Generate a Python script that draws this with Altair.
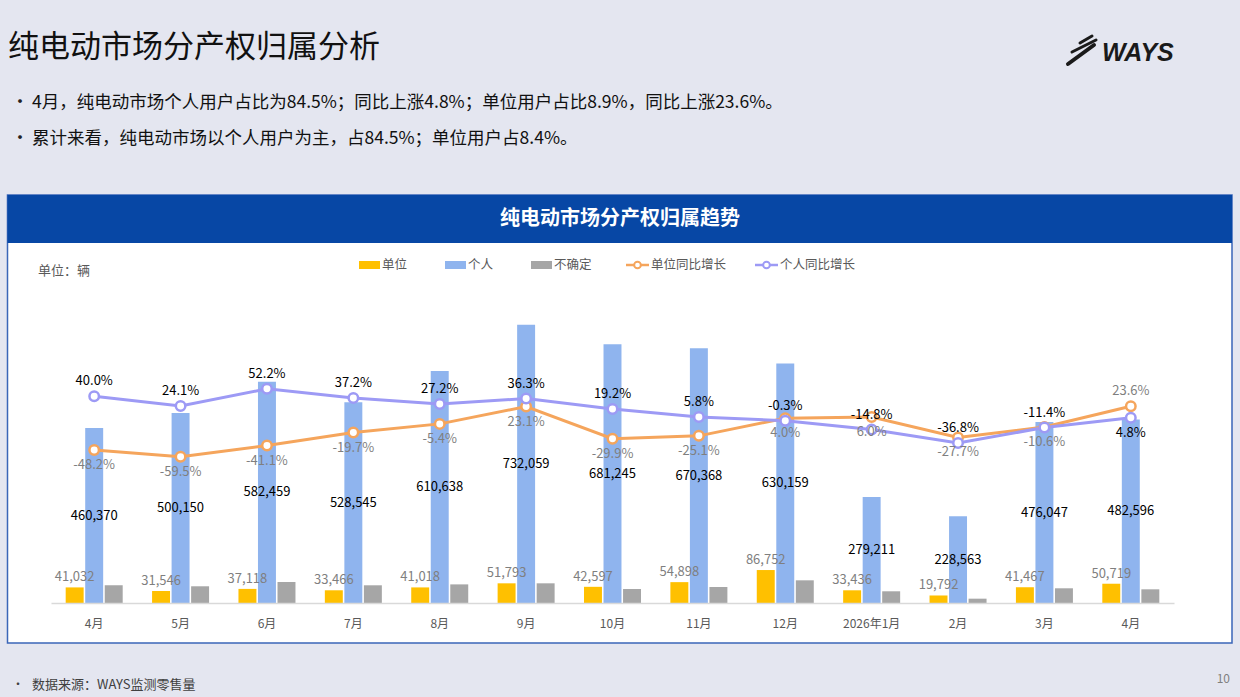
import json

import altair as alt
import pandas as pd

FONT = "Noto Sans CJK SC"

# ---- data -------------------------------------------------------------
months = ["4月", "5月", "6月", "7月", "8月", "9月", "10月", "11月", "12月",
          "2026年1月", "2月", "3月", "4月"]
unit_sales = [41032, 31546, 37118, 33466, 41018, 51793, 42597, 54898, 86752,
              33436, 19792, 41467, 50719]
personal_sales = [460370, 500150, 582459, 528545, 610638, 732059, 681245,
                  670368, 630159, 279211, 228563, 476047, 482596]
uncertain_sales = [46600, 44000, 55300, 46600, 49000, 51800, 36800, 42100,
                   59700, 30800, 11400, 38700, 36000]
unit_yoy = [-48.2, -59.5, -41.1, -19.7, -5.4, 23.1, -29.9, -25.1, 4.0, 6.0,
            -27.7, -10.6, 23.6]
personal_yoy = [40.0, 24.1, 52.2, 37.2, 27.2, 36.3, 19.2, 5.8, -0.3, -14.8,
                -36.8, -11.4, 4.8]

bar_series = ["单位", "个人", "不确定"]
bar_colors = ["#FFC000", "#8FB4EE", "#A6A6A6"]
UNIT_LINE = "#F5A55C"
PERSON_LINE = "#9D9AF5"

# ---- page geometry ----------------------------------------------------
PLOT_L, PLOT_T, PLOT_W, PLOT_H = 51, 299, 1123, 304
PAGE_W, PAGE_H = 1240, 697


def px(x):
    return x - PLOT_L


def py(y):
    return y - PLOT_T


# ---- tables -----------------------------------------------------------
bar_rows = []
for i in range(len(months)):
    for name, vals in zip(bar_series, [unit_sales, personal_sales, uncertain_sales]):
        bar_rows.append({"idx": i, "series": name, "value": vals[i]})
bar_df = pd.DataFrame(bar_rows)

last = len(months) - 1
unit_df = pd.DataFrame({
    "idx": list(range(len(months))),
    "pct": unit_yoy,
    # unit labels sit under their markers, except the latest month
    "above": [i == last for i in range(len(months))],
})
person_df = pd.DataFrame({
    "idx": list(range(len(months))),
    "pct": personal_yoy,
    "above": [i != last for i in range(len(months))],
})

ONE = alt.Data(values=[{"d": 0}])

x_axis = alt.Axis(
    title=None,
    labelExpr=json.dumps(months, ensure_ascii=False) + "[datum.value]",
    labelFont=FONT, labelFontSize=12, labelColor="#595959",
    labelAngle=0, labelPadding=15, ticks=False, grid=False,
    domainColor="#D9D9D9", domainWidth=1.5, zindex=2,
)
X = alt.X("idx:O", axis=x_axis,
          scale=alt.Scale(paddingInner=0.34, paddingOuter=0.17))
XO = alt.XOffset("series:N",
                 scale=alt.Scale(domain=bar_series, paddingInner=0.08))
bar_scale = alt.Scale(domain=[0, 800000], nice=False, zero=True)
pct_scale = alt.Scale(domain=[-300, 200], nice=False, zero=False)


def text(s, x, y, size, color="#000000", weight="normal", align="left",
         baseline="middle", font=FONT, style="normal"):
    return alt.Chart(ONE).mark_text(
        text=s, align=align, baseline=baseline, fontSize=size, color=color,
        fontWeight=weight, font=font, fontStyle=style,
    ).encode(x=alt.value(px(x)), y=alt.value(py(y)))


def rect(x1, y1, x2, y2, fill, stroke=None, sw=0):
    kw = {"fill": fill}
    if stroke:
        kw.update(stroke=stroke, strokeWidth=sw)
    return alt.Chart(ONE).mark_rect(**kw).encode(
        x=alt.value(px(x1)), x2=alt.value(px(x2)),
        y=alt.value(py(y1)), y2=alt.value(py(y2)))


def rule(x1, y1, x2, y2, color, width, cap="butt"):
    return alt.Chart(ONE).mark_rule(color=color, strokeWidth=width, strokeCap=cap).encode(
        x=alt.value(px(x1)), x2=alt.value(px(x2)),
        y=alt.value(py(y1)), y2=alt.value(py(y2)))


# ---- page decorations -------------------------------------------------
deco = [
    rect(7.5, 195, 1232, 643, "#FFFFFF", "#3A66B8", 1.5),
    rect(7.5, 195, 1232, 243, "#0747A5"),
    text("纯电动市场分产权归属趋势", 620, 219, 20, "#FFFFFF", "bold", "center"),
    text("纯电动市场分产权归属分析", 8, 48, 31, "#111111"),
    text("•", 11, 103, 18, "#222222"),
    text("4月，纯电动市场个人用户占比为84.5%；同比上涨4.8%；单位用户占比8.9%，同比上涨23.6%。",
         32, 103, 17.5, "#111111"),
    text("•", 11, 139, 18, "#222222"),
    text("累计来看，纯电动市场以个人用户为主，占84.5%；单位用户占8.4%。",
         32, 139, 17.5, "#111111"),
    text("WAYS", 1102, 53, 25, "#1A1A1A", "bold", font="Liberation Sans", style="italic"),
    rule(1068, 64, 1094, 45, "#1A1A1A", 4, "round"),
    rule(1072, 52, 1096, 40, "#1A1A1A", 3, "round"),
    rule(1080, 43, 1092, 36, "#1A1A1A", 3, "round"),
    text("单位：辆", 38, 271, 13, "#595959"),
    text("•", 12, 685, 12, "#404040"),
    text("数据来源：WAYS监测零售量", 32, 685, 13, "#404040"),
    text("10", 1230, 679, 12, "#7F7F7F", align="right"),
]

# ---- legend -----------------------------------------------------------
legend = []
for label, color, x0 in zip(bar_series, bar_colors, [359, 445, 531]):
    legend.append(rect(x0, 261, x0 + 21, 269, color))
    legend.append(text(label, x0 + 23, 265, 12.5, "#595959"))
for label, color, x0 in [("单位同比增长", UNIT_LINE, 626), ("个人同比增长", PERSON_LINE, 755)]:
    legend.append(rule(x0, 265, x0 + 23, 265, color, 2.5))
    legend.append(
        alt.Chart(ONE).mark_point(shape="circle", filled=True, fill="#FFFFFF",
                                  stroke=color, strokeWidth=2, size=45, opacity=1)
        .encode(x=alt.value(px(x0 + 11.5)), y=alt.value(py(265))))
    legend.append(text(label, x0 + 25, 265, 12.5, "#595959"))

# ---- bars and labels --------------------------------------------------
bars = alt.Chart(bar_df).mark_bar().encode(
    x=X, xOffset=XO,
    y=alt.Y("value:Q", scale=bar_scale, axis=None),
    color=alt.Color("series:N", scale=alt.Scale(domain=bar_series, range=bar_colors),
                    legend=None),
)

unit_labels = alt.Chart(bar_df).transform_filter("datum.series == '单位'").mark_text(
    baseline="bottom", dy=-3, fontSize=13, color="#7F7F7F", font=FONT,
).encode(x=X, xOffset=XO, y=alt.Y("value:Q", scale=bar_scale, axis=None),
         text=alt.Text("value:Q", format=","))

person_labels = alt.Chart(bar_df).transform_filter("datum.series == '个人'").transform_calculate(
    mid="datum.value / 2"
).mark_text(
    baseline="middle", fontSize=13, color="#000000", font=FONT,
).encode(x=X, xOffset=XO, y=alt.Y("mid:Q", scale=bar_scale, axis=None),
         text=alt.Text("value:Q", format=","))


# ---- growth lines -----------------------------------------------------
def growth_layers(df, color, label_color):
    base = alt.Chart(df).transform_calculate(
        lbl="(datum.pct < 0 ? '-' : '') + format(abs(datum.pct), '.1f') + '%'"
    )
    y = alt.Y("pct:Q", scale=pct_scale, axis=None)
    line = base.mark_line(color=color, strokeWidth=3).encode(x=X, y=y)
    pts = base.mark_point(shape="circle", filled=True, fill="#FFFFFF", stroke=color,
                          strokeWidth=2.5, size=90, opacity=1).encode(x=X, y=y)
    up = base.transform_filter("datum.above").mark_text(
        dy=-15, fontSize=13, color=label_color, font=FONT, baseline="middle"
    ).encode(x=X, y=y, text="lbl:N")
    down = base.transform_filter("!datum.above").mark_text(
        dy=15, fontSize=13, color=label_color, font=FONT, baseline="middle"
    ).encode(x=X, y=y, text="lbl:N")
    return [line, pts, up, down]


unit_layers = growth_layers(unit_df, UNIT_LINE, "#7F7F7F")
person_layers = growth_layers(person_df, PERSON_LINE, "#000000")

chart = alt.layer(
    *deco, bars, unit_labels, person_labels,
    unit_layers[0], person_layers[0], unit_layers[1], person_layers[1],
    unit_layers[2], unit_layers[3], person_layers[2], person_layers[3],
    *legend,
).resolve_scale(y="independent").properties(
    width=PLOT_W, height=PLOT_H,
    padding={"left": PLOT_L, "top": PLOT_T,
             "right": PAGE_W - PLOT_L - PLOT_W, "bottom": PAGE_H - PLOT_T - PLOT_H},
    autosize="none",
).configure(background="#E4E6F0").configure_view(stroke=None)

chart.save("out.html", embed_options={"renderer": "svg", "actions": False})
